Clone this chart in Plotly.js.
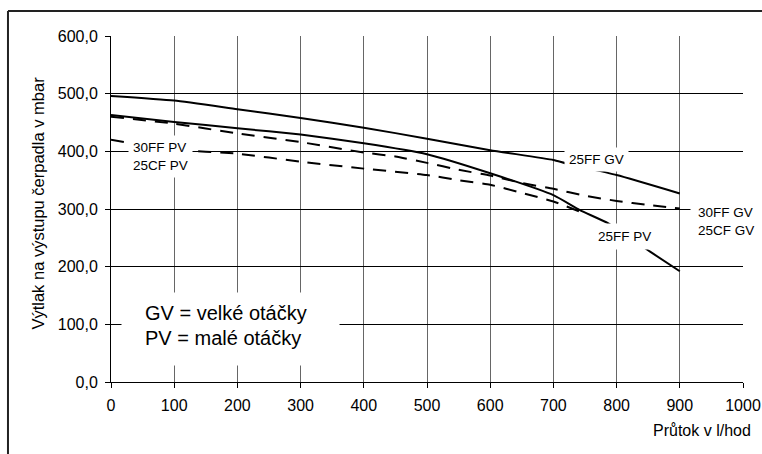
<!DOCTYPE html>
<html>
<head>
<meta charset="utf-8">
<script src="https://cdn.plot.ly/plotly-3.0.1.min.js"></script>
<style>html,body{margin:0;padding:0;background:#fff;}#chart{width:762px;height:454px;}</style>
</head>
<body>
<div id="chart"></div>
<script>
// Axis ticks
const xTickVals = [0, 100, 200, 300, 400, 500, 600, 700, 800, 900, 1000];
const xTickText = ['0', '100', '200', '300', '400', '500', '600', '700', '800', '900', '1000'];
const yTickVals = [0, 100, 200, 300, 400, 500, 600];
const yTickText = ['0,0', '100,0', '200,0', '300,0', '400,0', '500,0', '600,0'];

// 25FF GV (solid, upper)
const flow25FFGV = [0, 100, 200, 300, 400, 500, 600, 700, 720, 800, 900];
const head25FFGV = [496, 488, 473, 458, 441, 422, 402, 385, 379, 359, 327];

// 25FF PV (solid, steep)
const flow25FFPV = [0, 100, 200, 300, 400, 500, 600, 700, 742, 787, 853, 900];
const head25FFPV = [463, 451, 440, 429, 414, 395, 362, 324, 298, 275, 226, 192];

// 30FF GV / 25CF GV (dashed, upper)
const flowCFGV = [0, 100, 200, 300, 400, 450, 500, 550, 600, 650, 700, 750, 800, 850, 900];
const headCFGV = [460, 448, 431, 416, 398, 391, 380, 368, 358, 345, 335, 323, 314, 307, 301];

// 30FF PV / 25CF PV (dashed, lower)
const flowCFPV = [0, 100, 200, 300, 400, 500, 550, 600, 650, 700, 745];
const headCFPV = [420, 403, 396, 382, 370, 359, 350, 342, 328, 313, 294];

const FONT = 'Arial, "Liberation Sans", sans-serif';
const solid = {color: '#000', width: 2, shape: 'spline', smoothing: 0.5};
const dashed = {color: '#000', width: 2, dash: '13px,9px', shape: 'spline', smoothing: 0.5};

const traces = [
  {x: flowCFPV, y: headCFPV, mode: 'lines', line: dashed, name: '30FF PV / 25CF PV'},
  {x: flowCFGV, y: headCFGV, mode: 'lines', line: dashed, name: '30FF GV / 25CF GV'},
  {x: flow25FFPV, y: head25FFPV, mode: 'lines', line: solid, name: '25FF PV'},
  {x: flow25FFGV, y: head25FFGV, mode: 'lines', line: solid, name: '25FF GV'}
];

const layout = {
  width: 762, height: 454,
  margin: {l: 111, r: 19, t: 36, b: 72},
  paper_bgcolor: '#fff', plot_bgcolor: '#fff',
  showlegend: false,
  font: {family: FONT, color: '#000', size: 16},
  xaxis: {
    range: [0, 1000], tickvals: xTickVals, ticktext: xTickText,
    showgrid: true, gridcolor: '#666', gridwidth: 1,
    zeroline: false, showline: true, linecolor: '#000', linewidth: 1,
    ticks: 'outside', ticklen: 5, tickcolor: '#000',
    tickfont: {family: FONT, size: 16, color: '#000'},
    ticklabelstandoff: 4,
    fixedrange: true
  },
  yaxis: {
    range: [0, 600], tickvals: yTickVals, ticktext: yTickText,
    showgrid: true, gridcolor: '#000', gridwidth: 1,
    zeroline: false, showline: true, linecolor: '#000', linewidth: 1,
    ticks: 'outside', ticklen: 5, tickcolor: '#000',
    tickfont: {family: FONT, size: 16, color: '#000'},
    ticklabelstandoff: 4,
    fixedrange: true
  },
  shapes: [
    {type: 'line', xref: 'paper', yref: 'paper', x0: -0.163, x1: -0.163, y0: -0.3, y1: 1.0723, line: {color: '#222', width: 2}},
    {type: 'line', xref: 'paper', yref: 'paper', x0: -0.163, x1: 1.1, y0: 1.0723, y1: 1.0723, line: {color: '#222', width: 2}}
  ],
  annotations: [
    {xref: 'x', yref: 'y', x: 79, y: 391, text: '30FF PV<br>25CF PV', showarrow: false, align: 'left',
     bgcolor: '#fff', borderpad: 4, font: {family: FONT, size: 13.5, color: '#000'}},
    {xref: 'x', yref: 'y', x: 768, y: 386, text: '25FF GV', showarrow: false,
     bgcolor: '#fff', borderpad: 4, font: {family: FONT, size: 13.5, color: '#000'}},
    {xref: 'x', yref: 'y', x: 916, y: 278, xanchor: 'left', text: '30FF GV<br>25CF GV', showarrow: false, align: 'left',
     bgcolor: '#fff', borderpad: 7, font: {family: FONT, size: 13.5, color: '#000'}},
    {xref: 'x', yref: 'y', x: 812, y: 253, text: '25FF PV', showarrow: false,
     bgcolor: '#fff', borderpad: 5, font: {family: FONT, size: 13.5, color: '#000'}},
    {xref: 'x', yref: 'y', x: 189, y: 91.5, text: ' ', showarrow: false, width: 205, height: 60,
     bgcolor: '#fff', borderpad: 6, font: {family: FONT, size: 12, color: '#000'}},
    {xref: 'x', yref: 'y', x: 50.6, y: 119, xanchor: 'left', yanchor: 'middle',
     text: 'GV = velké otáčky', showarrow: false, align: 'left',
     font: {family: FONT, size: 20, color: '#000'}},
    {xref: 'x', yref: 'y', x: 50.6, y: 77, xanchor: 'left', yanchor: 'middle',
     text: 'PV = malé otáčky', showarrow: false, align: 'left',
     font: {family: FONT, size: 20, color: '#000'}},
    {xref: 'paper', yref: 'paper', x: 1.0158, y: -0.1416, xanchor: 'right', yanchor: 'middle',
     text: 'Průtok v l/hod', showarrow: false, font: {family: FONT, size: 16, color: '#000'}},
    {xref: 'paper', yref: 'paper', x: -0.117, y: 0.1445, xanchor: 'center', yanchor: 'bottom', textangle: -90,
     text: 'Výtlak na výstupu čerpadla v mbar', showarrow: false, font: {family: FONT, size: 16.5, color: '#000'}}
  ]
};

Plotly.newPlot('chart', traces, layout, {displayModeBar: false, staticPlot: true});
</script>
</body>
</html>
